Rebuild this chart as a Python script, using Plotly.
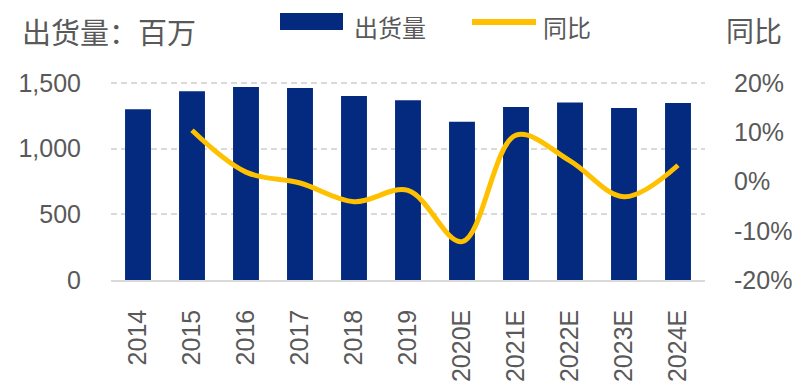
import plotly.graph_objects as go

categories = ["2014", "2015", "2016", "2017", "2018", "2019", "2020E", "2021E", "2022E", "2023E", "2024E"]
shipments = [1300, 1437, 1470, 1462, 1401, 1369, 1204, 1318, 1351, 1310, 1348]
yoy_categories = categories[1:]
yoy_pct = [10.4, 1.9, -0.3, -4.1, -1.8, -12.2, 9.4, 4.2, -3.1, 3.3]

left_ticks = [0, 500, 1000, 1500]
left_ticktext = ["0", "500", "1,000", "1,500"]
right_ticks = [-20, -10, 0, 10, 20]
right_ticktext = ["-20%", "-10%", "0%", "10%", "20%"]

BAR = "#032A7E"
GOLD = "#FFC000"
GRAY = "#595959"
CJK = "Noto Sans CJK SC"
LAT = "Liberation Sans"

OFF = 8  # page body margin
TOP_PAGE, BOT_PAGE, LEFT_PAGE, RIGHT_PAGE = 81, 280, 111, 705
Y_TOP = 1500 * (BOT_PAGE - TOP_PAGE) / (BOT_PAGE - 83)
Y2_TOP = -20 + 40 * (BOT_PAGE - TOP_PAGE) / (BOT_PAGE - 83)

W, H = 800 - OFF, 382 - OFF
L, T = LEFT_PAGE - OFF, TOP_PAGE - OFF
R = W - (RIGHT_PAGE - OFF)
B = H - (BOT_PAGE - OFF)
pw, ph = W - L - R, H - T - B


def px(x):
    return (x - OFF - L) / pw


def py(y):
    return (H - B - (y - OFF)) / ph


fig = go.Figure()
fig.add_trace(go.Bar(x=categories, y=shipments, marker=dict(color=BAR, line=dict(width=0)),
                     name="出货量", showlegend=False))
fig.add_trace(go.Scatter(x=yoy_categories, y=yoy_pct, yaxis="y2", mode="lines",
                         line=dict(color=GOLD, width=5, shape="spline", smoothing=1.0),
                         name="同比", showlegend=False))

fig.update_layout(
    width=W, height=H,
    margin=dict(l=L, r=R, t=T, b=B, pad=0, autoexpand=False),
    paper_bgcolor="white", plot_bgcolor="white",
    bargap=0.52,
    xaxis=dict(tickangle=-90, tickfont=dict(family=LAT, size=25, color=GRAY),
               showgrid=False, showline=True, linecolor="#D9D9D9", linewidth=1.5,
               ticks="", ticklabelstandoff=18, range=[-0.5, 10.5], automargin=False),
    yaxis=dict(range=[0, Y_TOP], tickvals=left_ticks, ticktext=left_ticktext,
               tickfont=dict(family=LAT, size=25, color=GRAY),
               showgrid=True, gridcolor="#D9D9D9", griddash="6px,4px", gridwidth=1.5,
               zeroline=False, ticks="", ticklabelstandoff=29, automargin=False),
    yaxis2=dict(range=[-20, Y2_TOP], tickvals=right_ticks, ticktext=right_ticktext,
                overlaying="y", side="right",
                tickfont=dict(family=LAT, size=25, color=GRAY),
                showgrid=False, zeroline=False, ticks="", ticklabelstandoff=28, automargin=False),
    font=dict(family=LAT, color=GRAY),
)

# titles
fig.add_annotation(text="出货量：百万", xref="paper", yref="paper", x=px(20), y=py(31),
                   xanchor="left", yanchor="middle", showarrow=False,
                   font=dict(family=CJK, size=29, color=GRAY))
fig.add_annotation(text="同比", xref="paper", yref="paper", x=px(724), y=py(30),
                   xanchor="left", yanchor="middle", showarrow=False,
                   font=dict(family=CJK, size=28, color=GRAY))

# legend
fig.add_shape(type="rect", xref="paper", yref="paper", x0=px(280), x1=px(343), y0=py(30), y1=py(13),
              fillcolor=BAR, line=dict(width=0))
fig.add_annotation(text="出货量", xref="paper", yref="paper", x=px(352), y=py(26),
                   xanchor="left", yanchor="middle", showarrow=False,
                   font=dict(family=CJK, size=24, color=GRAY))
fig.add_shape(type="line", xref="paper", yref="paper", x0=px(472), x1=px(536), y0=py(22), y1=py(22),
              line=dict(color=GOLD, width=6))
fig.add_annotation(text="同比", xref="paper", yref="paper", x=px(541), y=py(26),
                   xanchor="left", yanchor="middle", showarrow=False,
                   font=dict(family=CJK, size=24, color=GRAY))

fig.write_html("out.html")
